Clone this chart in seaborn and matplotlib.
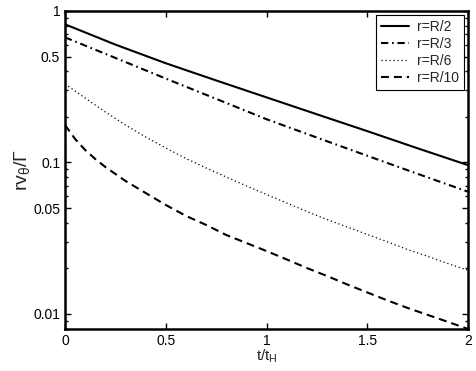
import numpy as np
import pandas as pd
import matplotlib
matplotlib.use("Agg")
import matplotlib.pyplot as plt
import seaborn as sns
from matplotlib.ticker import FixedLocator, FixedFormatter, LogLocator, NullFormatter

# ---- data ----
t_solid = [0.0, 0.25, 0.5, 0.75, 1.0, 1.25, 1.5, 1.75, 2.0]
v_solid = [0.817, 0.600, 0.452, 0.348, 0.269, 0.208, 0.161, 0.124, 0.096]

t_dashdot = [0.0, 0.25, 0.5, 0.75, 1.0, 1.25, 1.5, 1.75, 2.0]
v_dashdot = [0.670, 0.490, 0.358, 0.263, 0.193, 0.146, 0.1107, 0.0841, 0.0641]

t_dotted = [0.0, 0.1, 0.2, 0.3, 0.4, 0.5, 0.6, 0.7, 0.8, 0.9, 1.0,
            1.1, 1.2, 1.3, 1.4, 1.5, 1.6, 1.7, 1.8, 1.9, 2.0]
v_dotted = [0.3298, 0.2665, 0.2154, 0.1768, 0.1473, 0.1246, 0.1063, 0.0920,
            0.0802, 0.0700, 0.0615, 0.0540, 0.0475, 0.0420, 0.0375, 0.0335,
            0.0299, 0.0266, 0.0240, 0.0215, 0.0194]

t_dashed = [0.0, 0.05, 0.1, 0.15, 0.2, 0.3, 0.4, 0.5, 0.6, 0.7, 0.8, 0.9, 1.0,
            1.1, 1.2, 1.3, 1.4, 1.5, 1.6, 1.7, 1.8, 1.9, 2.0]
v_dashed = [0.1768, 0.1429, 0.1209, 0.1055, 0.0934, 0.0755, 0.0629, 0.0524,
            0.0444, 0.0387, 0.0332, 0.0294, 0.0260, 0.0229, 0.0201, 0.0178,
            0.01566, 0.01386, 0.01228, 0.01095, 0.00985, 0.00886, 0.00796]

labels = ["r=R/2", "r=R/3", "r=R/6", "r=R/10"]
yticks = [0.01, 0.05, 0.1, 0.5, 1]
ytick_labels = ["0.01", "0.05", "0.1", "0.5", "1"]
xticks = [0, 0.5, 1, 1.5, 2]
xtick_labels = ["0", "0.5", "1", "1.5", "2"]

sns.set_theme(style="white")
plt.rcParams["font.family"] = ["Liberation Sans", "DejaVu Sans"]
plt.rcParams["mathtext.fontset"] = "custom"
plt.rcParams["mathtext.rm"] = "Liberation Sans"
plt.rcParams["mathtext.it"] = "Liberation Sans"

fig = plt.figure(figsize=(4.76, 3.71), dpi=100)
ax = fig.add_axes([65/476, 1-329/371, (468-65)/476, (329-11)/371])

series = [
    (t_solid, v_solid, (None), 1.5),
    (t_dashdot, v_dashdot, (3.5, 1.8, 0.8, 1.8), 1.5),
    (t_dotted, v_dotted, (1.0, 2.2), 0.9),
    (t_dashed, v_dashed, (3.8, 2.4), 1.5),
]
for (tx, vy, dashes, lw), lab in zip(series, labels):
    df = pd.DataFrame({"t": tx, "v": vy})
    sns.lineplot(data=df, x="t", y="v", ax=ax, color="black", lw=lw, label=lab)
    line = ax.lines[-1]
    if dashes is not None:
        line.set_dashes(dashes)

ax.set_yscale("log")
ax.set_xlim(0, 2)
ax.set_ylim(0.00795, 1)
ax.yaxis.set_major_locator(FixedLocator(yticks))
ax.yaxis.set_major_formatter(FixedFormatter(ytick_labels))
ax.yaxis.set_minor_locator(LogLocator(base=10, subs=np.arange(2, 10)))
ax.yaxis.set_minor_formatter(NullFormatter())
ax.set_xticks(xticks)
ax.set_xticklabels(xtick_labels)

ax.tick_params(which="both", direction="in", top=True, right=True, left=True, bottom=True,
               labelsize=10, colors="black", width=1.0)
ax.tick_params(which="major", length=4)
ax.tick_params(which="minor", length=2)
for s in ax.spines.values():
    s.set_linewidth(1.8)
    s.set_color("black")

ax.set_xlabel(r"t/t$_\mathrm{H}$", fontsize=11, labelpad=0)
ax.set_ylabel(r"rv$_\theta$/$\Gamma$", fontsize=14, labelpad=1)

leg = ax.legend(loc="upper right", fontsize=10, frameon=True, fancybox=False,
                edgecolor="black", framealpha=1, handlelength=2.0,
                borderpad=0.35, labelspacing=0.22, handletextpad=0.6,
                borderaxespad=0, bbox_to_anchor=(0.99, 0.987))
leg.get_frame().set_linewidth(0.8)

fig.savefig("out.png", dpi=100)
